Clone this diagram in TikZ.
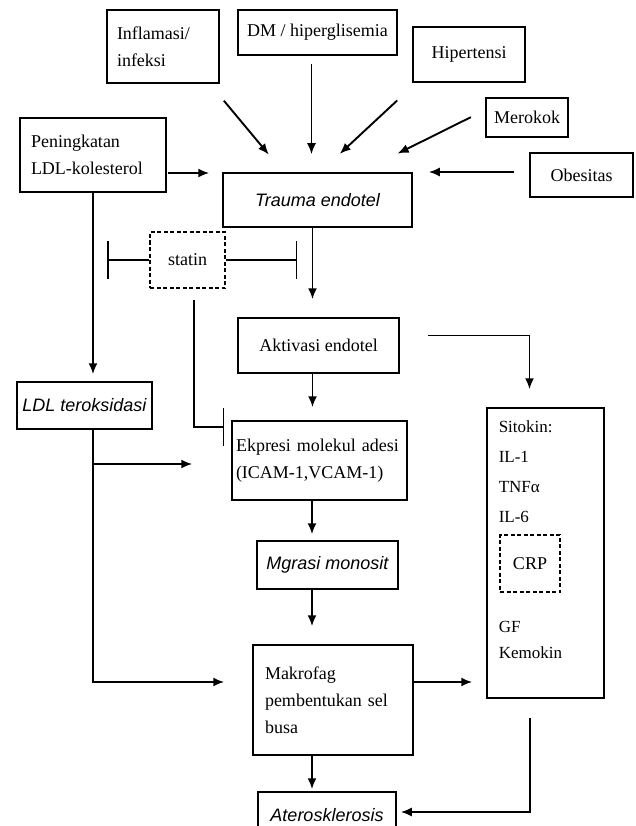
\documentclass[tikz,border=0pt]{standalone}
\usepackage{fontspec}
\setmainfont{Liberation Serif}
\newfontfamily\itsans{Liberation Sans}
\usepackage{tikz}
\usetikzlibrary{arrows.meta}

\begin{document}
\begin{tikzpicture}[%
    x=1pt, y=-1pt,
    >={Latex[length=11pt,width=9pt]},
    line width=1.5pt,
    font=\fontsize{18}{27}\selectfont,
    box/.style={draw, rectangle, inner sep=3pt, align=center},
    lbox/.style={box, align=left},
    dbox/.style={box, dash pattern=on 4pt off 2.5pt},
    it/.style={font=\fontsize{18}{22}\selectfont\itsans\itshape},
    arr/.style={->, line width=1.9pt},
    inh/.style={-{Bar[width=38pt]}, line width=1.5pt}
  ]
    \useasboundingbox (0,0) rectangle (636,826);
    \clip (0,0) rectangle (636,826);

    % risk factors
    \node[lbox, minimum width=112, minimum height=73, text width=92] (infl) at (163,46.5) {Inflamasi/\\infeksi};
    \node[box, minimum width=159, minimum height=45] (dm) at (317.5,32.5) {DM / hiperglisemia};
    \node[box, minimum width=112, minimum height=55] (hip) at (469,54.5) {Hipertensi};
    \node[box, minimum width=82, minimum height=39] (mer) at (527,117.5) {Merokok};
    \node[box, minimum width=103, minimum height=44] (obe) at (581.5,175) {Obesitas};
    \node[lbox, minimum width=146, minimum height=74, text width=124] (pen) at (93,155) {Peningkatan\\LDL-kolesterol};

    % main chain
    \node[box, it, minimum width=189, minimum height=54] (trauma) at (317.5,200) {Trauma endotel};
    \node[dbox, minimum width=75, minimum height=56] (statin) at (187.5,260) {statin};
    \node[box, minimum width=161, minimum height=55] (akt) at (318.5,345.5) {Aktivasi endotel};
    \node[lbox, minimum width=175, minimum height=79, text width=167] (eks) at (319.5,460.5) {Ekpresi molekul adesi\\(ICAM-1,VCAM-1)};
    \node[box, it, minimum width=141, minimum height=48] (mig) at (327.5,565) {Mgrasi monosit};
    \node[lbox, minimum width=160, minimum height=110, text width=136] (mak) at (333,700) {Makrofag\\pembentukan sel\\busa};
    \node[box, it, minimum width=138, minimum height=46] (ate) at (327,815) {Aterosklerosis};
    \node[box, it, minimum width=135, minimum height=47] (ldl) at (84.5,405.5) {LDL teroksidasi};

    % cytokines
    \node[box, minimum width=117, minimum height=290] (sit) at (545.5,553) {};
    \node[align=left, anchor=north west, inner sep=0pt, font=\fontsize{17}{30}\selectfont] (sitk) at (498,420) {Sitokin:\\IL-1\\TNFα\\IL-6};
    \node[dbox, minimum width=60, minimum height=57] (crp) at (530,563.5) {CRP};
    \node[align=left, anchor=north west, inner sep=0pt, font=\fontsize{17}{26}\selectfont] (gf) at (498,620) {GF\\Kemokin};

    \coordinate (inhL) at (107,260);
    \coordinate (inhR) at (297,260);
    \coordinate (sd) at (194,300);
    \coordinate (inhE) at (224,427);

    % arrows into trauma
    \draw[arr, shorten <=22pt, shorten >=23pt] ([xshift=-10]infl.south east) -- ([xshift=-34]trauma.north);
    \draw[arr, shorten <=8pt, shorten >=18pt] ([xshift=-6]dm.south) -- ([xshift=-6]trauma.north);
    \draw[arr, shorten <=26pt, shorten >=27pt] ([xshift=4]hip.south west) -- ([xshift=2.5]trauma.north);
    \draw[arr, shorten <=16pt, shorten >=42pt] ([yshift=7.5]mer.west) -- ([xshift=42.5]trauma.north);
    \draw[arr, shorten <=15pt, shorten >=16pt] ([yshift=3]obe.west) -- ([yshift=3]obe.west -| trauma.north east);
    \draw[arr, shorten <=1pt, shorten >=13pt] ([yshift=-18]pen.east) -- ([yshift=-18]pen.east -| trauma.west);
    \draw[arr, shorten >=7pt] (pen.south) -- (pen.south |- ldl.north);

    % statin
    \draw[inh] (statin.west) -- (inhL);
    \draw[inh] (statin.east) -- (inhR);
    \draw[inh] (sd) |- (inhE);

    % down the chain
    \draw[arr, shorten >=18pt] ([xshift=-5]trauma.south) -- ([xshift=-5]trauma.south |- akt.north);
    \draw[arr, shorten >=13pt] ([xshift=-6]akt.south) -- ([xshift=-6]akt.south |- eks.north);
    \draw[arr, shorten <=28pt, shorten >=18pt] ([yshift=10]akt.east) -| ([xshift=-16]sit.north);
    \draw[arr, shorten >=6pt] ([xshift=-7.5]eks.south) -- ([xshift=-7.5]eks.south |- mig.north);
    \draw[arr, shorten >=18pt] ([xshift=-15.5]mig.south) -- ([xshift=-15.5]mig.south |- mak.north);
    \draw[arr, shorten >=2pt] ([xshift=-21]mak.south) -- ([xshift=-21]mak.south |- ate.north);
    \draw[arr, shorten >=14pt] ([yshift=18]mak.east) -- ([yshift=18]mak.east -| sit.west);

    % LDL teroksidasi
    \draw[arr, shorten >=39pt] ([xshift=8.5]ldl.south) |- ([yshift=-3.5]eks.west);
    \draw[arr, shorten >=28pt] ([xshift=8.5]ldl.south) |- ([yshift=18]mak.west);

    % back to aterosklerosis
    \draw[arr, shorten <=19pt, shorten >=4pt] ([xshift=-15.5]sit.south) |- ([yshift=3]ate.east);
\end{tikzpicture}
\end{document}
